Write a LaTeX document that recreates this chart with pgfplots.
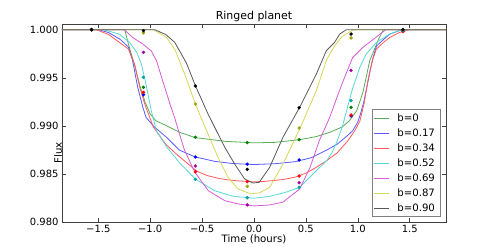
\documentclass[border=0pt]{standalone}
\usepackage{fontspec}
\setmainfont{DejaVu Sans}
\usepackage{pgfplots}
\pgfplotsset{compat=1.18}
\definecolor{cG}{rgb}{0,0.5,0}
\definecolor{cB}{rgb}{0,0,1}
\definecolor{cR}{rgb}{1,0,0}
\definecolor{cC}{rgb}{0,0.75,0.75}
\definecolor{cM}{rgb}{0.75,0,0.75}
\definecolor{cY}{rgb}{0.75,0.75,0}
\definecolor{cK}{rgb}{0,0,0}
\colorlet{lG}{cG!65!white}
\colorlet{lB}{cB!65!white}
\colorlet{lR}{cR!65!white}
\colorlet{lC}{cC!65!white}
\colorlet{lM}{cM!65!white}
\colorlet{lY}{cY!65!white}
\colorlet{lK}{cK!65!white}
\pgfplotsset{
  curve/.style={line width=0.8bp, no marks},
  dots/.style={only marks, mark=*, mark size=1.5bp, forget plot},
}
\begin{document}
\begin{tikzpicture}
\begin{axis}[
  scale only axis, width=384bp, height=198bp,
  xmin=-1.85, xmax=1.85, ymin=0.98, ymax=1.00056,
  xtick={-1.5,-1,-0.5,0,0.5,1,1.5},
  xticklabels={−1.5,−1.0,−0.5,0.0,0.5,1.0,1.5},
  ytick={0.98,0.985,0.99,0.995,1.0},
  yticklabels={0.980,0.985,0.990,0.995,1.000},
  scaled y ticks=false, scaled x ticks=false,
  tick align=inside, major tick length=4bp,
  tick style={gray!50!black, line width=0.5bp},
  axis line style={gray!50!black, line width=0.7bp},
  ticklabel style={font=\fontsize{10}{11}\selectfont},
  xticklabel style={yshift=1bp},
  every axis title shift=0pt,
  title={Ringed planet},
  title style={font=\fontsize{11}{13}\selectfont, at={(0.5,1)}, anchor=base, yshift=4.5bp},
  xlabel={Time (hours)}, ylabel={Flux},
  label style={font=\fontsize{10.2}{12}\selectfont},
  xlabel style={at={(0.5,0)}, anchor=base, yshift=-19.8bp},
  ylabel style={at={(0,0.5)}, anchor=base, xshift=-29.5bp},
  legend cell align=left,
  legend image code/.code={\draw[#1, line width=1bp] (0bp,0bp) -- (15bp,0bp);},
  legend style={at={(0.988,0.027)}, anchor=south east, draw=gray, line width=0.9bp,
    inner xsep=1.5bp, inner ysep=1bp, column sep=3bp, row sep=0pt,
    nodes={inner xsep=4.5bp, inner ysep=3.7bp, text height=7.6bp, text depth=0pt,
      font=\fontsize{10.2}{12}\selectfont}},
]
% ---------- model curves ----------
\addplot[curve, lG] coordinates {(-1.85,1)(-1.245,1)(-1.21,0.9985)(-1.15,0.9963)(-1.1,0.9942)(-1.05,0.9925)(-1.0,0.99125)(-0.946,0.99055)(-0.844,0.99003)(-0.716,0.98934)(-0.565,0.98879)(-0.28,0.98841)(0,0.98825)(0.2,0.9883)(0.44,0.98858)(0.6,0.9889)(0.73,0.98934)(0.85,0.9899)(0.92,0.99055)(0.99,0.9916)(1.05,0.9935)(1.115,0.99678)(1.2,0.9990)(1.245,1)(1.85,1)};
\addlegendentry{b=0}
\addplot[curve, lB] coordinates {(-1.85,1)(-1.5,1)(-1.4,0.9997)(-1.29,0.9990)(-1.21,0.9982)(-1.17,0.9968)(-1.12,0.9940)(-1.07,0.9919)(-1.04,0.9909)(-0.97,0.9900)(-0.84,0.9888)(-0.72,0.9875)(-0.57,0.9868)(-0.38,0.98633)(-0.2,0.9861)(0,0.986)(0.2,0.98608)(0.4,0.9863)(0.55,0.9867)(0.7,0.9875)(0.8,0.9881)(0.9,0.9890)(0.95,0.9895)(1.0,0.9904)(1.03,0.9914)(1.06,0.9926)(1.09,0.9942)(1.12,0.9958)(1.15,0.9972)(1.18,0.9983)(1.25,0.9990)(1.31,0.99955)(1.4,0.9999)(1.47,1)(1.85,1)};
\addlegendentry{b=0.17}
\addplot[curve, lR] coordinates {(-1.85,1)(-1.52,1)(-1.4,0.9995)(-1.3,0.9987)(-1.21,0.9980)(-1.15,0.9964)(-1.1,0.9940)(-1.05,0.9922)(-0.97,0.9899)(-0.85,0.9881)(-0.75,0.9871)(-0.65,0.9862)(-0.55,0.9853)(-0.45,0.98485)(-0.35,0.98458)(-0.25,0.9844)(-0.15,0.9843)(0,0.9842)(0.1,0.98425)(0.2,0.98435)(0.3,0.98448)(0.4,0.9847)(0.5,0.9851)(0.6,0.9857)(0.7,0.9864)(0.8,0.9872)(0.9,0.9884)(0.97,0.9895)(1.02,0.9905)(1.06,0.9923)(1.1,0.9948)(1.14,0.9968)(1.18,0.9980)(1.25,0.9987)(1.31,0.9992)(1.4,0.9997)(1.5,1)(1.85,1)};
\addlegendentry{b=0.34}
\addplot[curve, lC] coordinates {(-1.85,1)(-1.45,1)(-1.3,0.99955)(-1.2,0.9987)(-1.13,0.99765)(-1.085,0.99644)(-1.04,0.9943)(-0.99,0.9916)(-0.94,0.9895)(-0.84,0.9878)(-0.76,0.98675)(-0.72,0.9862)(-0.565,0.9845)(-0.38,0.98328)(-0.2,0.9827)(0,0.9825)(0.15,0.9827)(0.3,0.9831)(0.44,0.98363)(0.6,0.98536)(0.7,0.9864)(0.75,0.9872)(0.8,0.9884)(0.85,0.9899)(0.9,0.9919)(0.95,0.9939)(1.02,0.9961)(1.08,0.99745)(1.18,0.99869)(1.3,0.9995)(1.42,1)(1.85,1)};
\addlegendentry{b=0.52}
\addplot[curve, lM] coordinates {(-1.85,1)(-1.25,1)(-1.17,0.9992)(-1.07,0.9985)(-0.99,0.9978)(-0.94,0.9968)(-0.88,0.9947)(-0.81,0.9923)(-0.76,0.9907)(-0.73,0.9896)(-0.67,0.9875)(-0.57,0.9852)(-0.44,0.98328)(-0.28,0.98224)(-0.15,0.9819)(0,0.9817)(0.15,0.9818)(0.28,0.9821)(0.44,0.98346)(0.54,0.9857)(0.63,0.9885)(0.73,0.9909)(0.8,0.9930)(0.86,0.9947)(0.95,0.9971)(1.05,0.99817)(1.15,0.9990)(1.27,1)(1.85,1)};
\addlegendentry{b=0.69}
\addplot[curve, lY] coordinates {(-1.85,1)(-0.97,1)(-0.844,0.99921)(-0.76,0.9979)(-0.668,0.9954)(-0.565,0.99228)(-0.443,0.98917)(-0.347,0.98675)(-0.25,0.98467)(-0.154,0.98346)(-0.05,0.98303)(0,0.983)(0.05,0.98305)(0.151,0.98363)(0.279,0.98605)(0.44,0.98969)(0.601,0.99367)(0.7,0.9969)(0.777,0.99834)(0.85,0.9993)(0.95,0.99995)(1.0,1)(1.85,1)};
\addlegendentry{b=0.87}
\addplot[curve, lK] coordinates {(-1.85,1)(-0.957,1)(-0.85,0.9995)(-0.764,0.99869)(-0.7,0.99748)(-0.65,0.9965)(-0.565,0.99419)(-0.443,0.99125)(-0.282,0.98779)(-0.186,0.98605)(-0.09,0.9845)(-0.01,0.98408)(0.05,0.98415)(0.151,0.98571)(0.279,0.98883)(0.44,0.99194)(0.601,0.9954)(0.697,0.99782)(0.777,0.99869)(0.826,0.99955)(0.89,1)(1.85,1)};
\addlegendentry{b=0.90}
% ---------- data points ----------
\addplot[dots, cG] coordinates {(-1.565,1.0)(-1.065,0.99402)(-0.565,0.98883)(-0.065,0.98827)(0.435,0.98858)(0.935,0.99194)(1.435,0.9999)};
\addplot[dots, cB] coordinates {(-1.565,1.0)(-1.065,0.99325)(-0.565,0.98678)(-0.065,0.98605)(0.435,0.98647)(0.935,0.99104)(1.435,0.9999)};
\addplot[dots, cR] coordinates {(-1.565,1.0)(-1.065,0.9935)(-0.565,0.98525)(-0.065,0.98422)(0.435,0.98481)(0.935,0.99114)(1.435,0.9998)};
\addplot[dots, cC!85!black] coordinates {(-1.565,1.0)(-1.065,0.99506)(-0.565,0.98446)(-0.065,0.98255)(0.435,0.98363)(0.935,0.99263)(1.435,0.9999)};
\addplot[dots, cM!85!black] coordinates {(-1.565,1.0)(-1.065,0.99765)(-0.565,0.98585)(-0.065,0.9818)(0.435,0.98411)(0.935,0.99578)(1.435,1.0)};
\addplot[dots, cY!85!black] coordinates {(-1.565,1.0)(-1.065,0.99966)(-0.565,0.99228)(-0.065,0.98374)(0.435,0.98979)(0.935,0.99914)(1.435,1.0)};
\addplot[dots, cK] coordinates {(-1.565,1.0)(-1.065,0.9999)(-0.565,0.99415)(-0.065,0.9855)(0.435,0.9919)(0.935,0.99955)(1.435,1.0)};
\coordinate (SW) at (rel axis cs:0,0);
\coordinate (NE) at (rel axis cs:1,1);
\end{axis}
\pgfresetboundingbox
\path ([shift={(-62bp,-24.7bp)}]SW) rectangle ([shift={(50bp,24.3bp)}]NE);
\end{tikzpicture}
\end{document}
